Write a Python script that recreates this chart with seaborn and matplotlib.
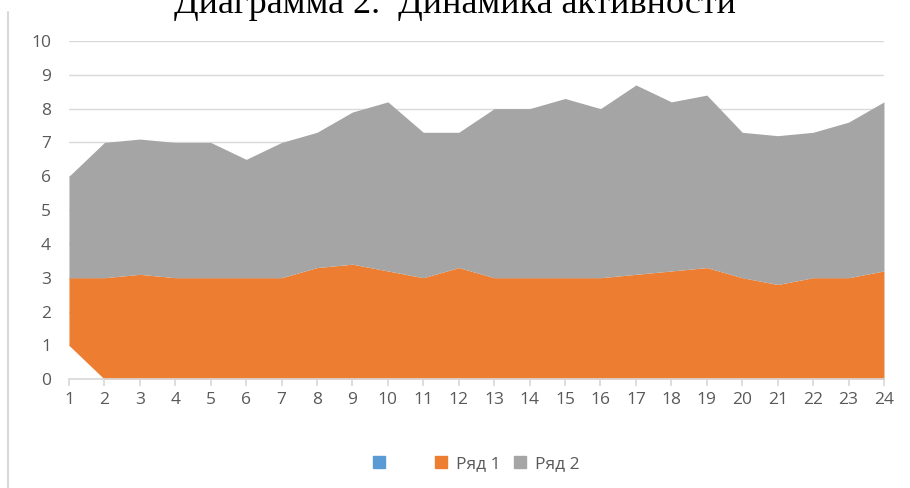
import numpy as np
import pandas as pd
import matplotlib.pyplot as plt
import seaborn as sns
from matplotlib.patches import Patch
from matplotlib.lines import Line2D

# category labels
points = list(range(1, 24 + 1))

# first (unnamed) series, drawn without visible fill
series_0 = [1, 0, 0, 0, 0, 0, 0, 0, 0, 0, 0, 0, 0, 0, 0, 0, 0, 0, 0, 0, 0, 0, 0, 0]
# stacked tops
top_1 = [3, 3, 3.1, 3, 3, 3, 3, 3.3, 3.4, 3.2, 3, 3.3, 3, 3, 3, 3, 3.1, 3.2, 3.3, 3, 2.8, 3, 3, 3.2]
top_2 = [6, 7, 7.1, 7, 7, 6.5, 7, 7.3, 7.9, 8.2, 7.3, 7.3, 8, 8, 8.3, 8, 8.7, 8.2, 8.4, 7.3, 7.2, 7.3, 7.6, 8.2]

df = pd.DataFrame({'x': points, 's0': series_0, 'top1': top_1, 'top2': top_2})
df['ryad1'] = df['top1'] - df['s0']
df['ryad2'] = df['top2'] - df['top1']

sns.set_theme(style='white')
plt.rcParams['font.family'] = ['Open Sans', 'DejaVu Sans']

fig, ax = plt.subplots(figsize=(9.1, 4.88), dpi=100)
fig.subplots_adjust(left=0.0758, right=0.9714, top=0.916, bottom=0.223)

blue = '#5B9BD5'
orange = '#ED7D31'
gray = '#A5A5A5'

ax.stackplot(df['x'], df['s0'], df['ryad1'], df['ryad2'],
             colors=['white', orange, gray], linewidth=0, zorder=2)

ax.set_xlim(1, 24)
ax.set_ylim(0, 10)
ax.set_yticks(range(0, 11))
ax.set_xticks(points)
ax.yaxis.grid(True, color='#D9D9D9', linewidth=1)
ax.set_axisbelow(True)

for side in ['top', 'right', 'left']:
    ax.spines[side].set_visible(False)
ax.spines['bottom'].set_color('#D9D9D9')
ax.spines['bottom'].set_zorder(3)

ax.tick_params(axis='y', length=0, labelsize=12.5, labelcolor='#595959', pad=13)
ax.tick_params(axis='x', length=5, color='#D9D9D9', direction='out',
               labelsize=12.5, labelcolor='#595959', pad=4, bottom=True)

# the first series has no name, spaces keep its slot wide as in the original
handles = [Patch(color=blue), Patch(color=orange), Patch(color=gray)]
ax.legend(handles, ['      ', 'Ряд 1', 'Ряд 2'], loc='upper center',
          bbox_to_anchor=(0.5, -0.18), ncol=3, frameon=False,
          fontsize=12.5, labelcolor='#595959', handlelength=0.7, handleheight=0.7,
          handletextpad=0.5, columnspacing=0.8)

fig.text(0.5, 0.973, 'Диаграмма 2.  Динамика активности', ha='center', va='baseline',
         fontsize=26, family='Liberation Serif', color='black')

fig.add_artist(Line2D([0.009, 0.009], [0.0, 0.975], color='#D9D9D9', linewidth=1.5,
                      transform=fig.transFigure))

plt.savefig('out.png', dpi=100)
